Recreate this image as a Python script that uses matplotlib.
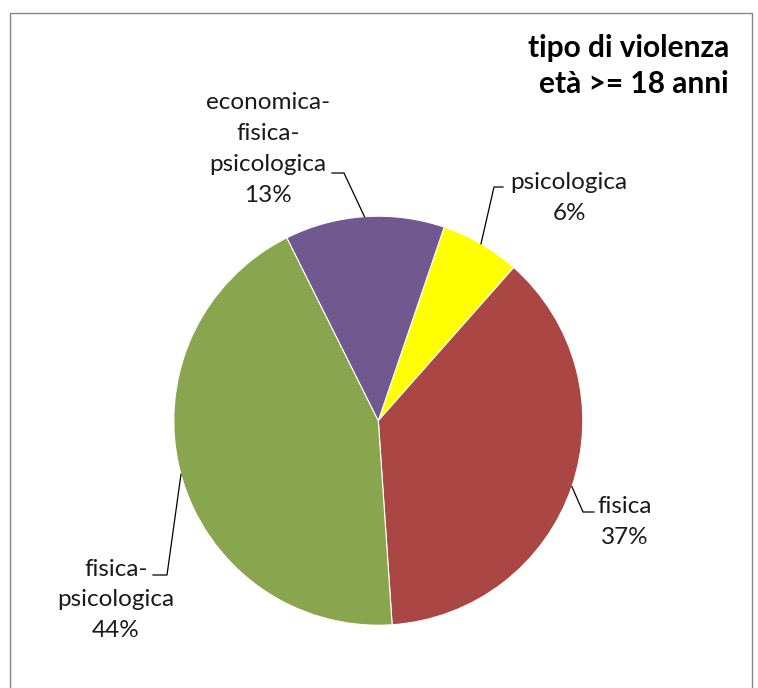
import numpy as np
import matplotlib
matplotlib.use("Agg")
import matplotlib.pyplot as plt
from matplotlib.patches import Rectangle

# ---- data ----
categories = ["psicologica", "fisica", "fisica-\npsicologica", "economica-\nfisica-\npsicologica"]
values = [6.3, 37.4, 43.7, 12.6]
colors = ["#FFFF00", "#AA4643", "#89A54E", "#71588F"]
title_lines = ["tipo di violenza", "età >= 18 anni"]

W, H = 758, 688
plt.rcParams['font.family'] = ['Lato', 'DejaVu Sans']

fig = plt.figure(figsize=(W / 100, H / 100), dpi=100)
ax = fig.add_axes([0, 0, 1, 1])

def Y(y):
    return H - y

cx, cy, R = 378.3, 420.7, 204.5
wedges, _ = ax.pie(values, colors=colors, startangle=71.2, counterclock=False,
                   center=(cx, Y(cy)), radius=R,
                   wedgeprops=dict(edgecolor="white", linewidth=0.8))
ax.set_xlim(0, W)
ax.set_ylim(0, H)
ax.set_aspect('equal')
ax.axis('off')

# frame
ax.add_patch(Rectangle((9.5, -5), 742, Y(12.5) + 5, fill=False,
                       edgecolor="#868686", linewidth=1.0, zorder=0))

# label layout (pixel positions): text centre, bend point, end point
layout = [
    dict(text=(569, 198), bend=(494, 187), end=(503, 187)),
    dict(text=(625, 522), bend=(583, 512), end=(594, 512)),
    dict(text=(116, 600), bend=(167, 575), end=(153, 575)),
    dict(text=(268, 149), bend=(344, 173), end=(332, 173)),
]

fs = 17.5
for w, cat, val, lay in zip(wedges, categories, values, layout):
    mid = np.deg2rad((w.theta1 + w.theta2) / 2)
    ex, ey = cx + R * np.cos(mid), Y(cy) + R * np.sin(mid)
    bx, by = lay["bend"]
    tx, ty = lay["end"]
    ax.plot([ex, bx, tx], [ey, Y(by), Y(ty)], color="black", lw=0.9,
            solid_joinstyle="miter")
    ax.text(lay["text"][0], Y(lay["text"][1]), f"{cat}\n{val:.0f}%",
            ha="center", va="center", multialignment="center",
            fontsize=fs, color="#1a1a1a", linespacing=1.58)

ax.text(729, Y(48), title_lines[0], ha="right", va="center",
        fontsize=21.5, fontweight="bold", color="black")
ax.text(729, Y(84), title_lines[1], ha="right", va="center",
        fontsize=21.5, fontweight="bold", color="black")

fig.savefig("out.png", dpi=100)
